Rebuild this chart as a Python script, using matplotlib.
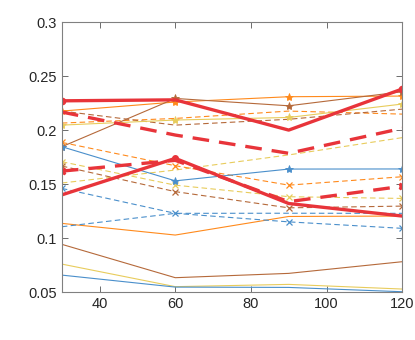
import numpy as np
import matplotlib
matplotlib.use("Agg")
import matplotlib.pyplot as plt

plt.rcParams['font.family'] = ['Liberation Sans', 'DejaVu Sans']

x = [30, 60, 90, 120]

# colours
blue = '#4a8fcb'
orange = '#ff8a1c'
brown = '#b5693a'
yellow = '#e8cc5c'
red = '#e8343a'

# solid, star markers
orange_star = [0.2176, 0.226, 0.2309, 0.2315]
brown_star = [0.1846, 0.2293, 0.2225, 0.2355]
yellow_star = [0.2046, 0.2093, 0.2117, 0.2241]
blue_star = [0.1846, 0.153, 0.1639, 0.164]

# dashed, x markers
orange_x = [0.1886, 0.167, 0.149, 0.1568]
yellow_x = [0.1707, 0.149, 0.1383, 0.1367]
brown_x = [0.1667, 0.143, 0.128, 0.1296]
blue_x = [0.146, 0.1229, 0.115, 0.109]

# dashed, no markers
orange_d = [0.2065, 0.2108, 0.2176, 0.2148]
brown_d = [0.2176, 0.2046, 0.21, 0.2194]
yellow_d = [0.151, 0.163, 0.177, 0.193]
blue_d = [0.1105, 0.1229, 0.123, 0.1229]

# solid, no markers
orange_s = [0.1136, 0.1028, 0.120, 0.1204]
brown_s = [0.0942, 0.0633, 0.0673, 0.0781]
yellow_s = [0.0759, 0.055, 0.0571, 0.0528]
blue_s = [0.0657, 0.0546, 0.0543, 0.0503]

# thick red
red_top = [0.2271, 0.228, 0.200, 0.238]
red_low = [0.140, 0.1738, 0.132, 0.1204]
red_dash_top = [0.2167, 0.1954, 0.1785, 0.2016]
red_dash_low = [0.162, 0.172, 0.1337, 0.148]

fig = plt.figure(figsize=(4.15, 3.4), dpi=100)
ax = fig.add_axes([0.149, 0.141, 0.82, 0.794])

thin = 0.8
for ys, c in [(orange_s, orange), (brown_s, brown), (yellow_s, yellow), (blue_s, blue)]:
    ax.plot(x, ys, '-', color=c, lw=thin)
for ys, c in [(orange_d, orange), (brown_d, brown), (yellow_d, yellow), (blue_d, blue)]:
    ax.plot(x, ys, '--', color=c, lw=thin, dashes=(5, 3))
for ys, c in [(orange_x, orange), (yellow_x, yellow), (brown_x, brown), (blue_x, blue)]:
    ax.plot(x, ys, '--', color=c, lw=thin, dashes=(5, 3), marker='x', ms=5, mew=0.9)
for ys, c in [(orange_star, orange), (brown_star, brown), (yellow_star, yellow), (blue_star, blue)]:
    ax.plot(x, ys, '-', color=c, lw=thin, marker='*', ms=6, mew=0.6)

ax.plot(x, red_top, '-', color=red, lw=2.4, marker='o', ms=4.5, markevery=[0, 3])
ax.plot(x, red_low, '-', color=red, lw=2.4, marker='o', ms=4, markevery=[1])
ax.plot(x, red_dash_top, '--', color=red, lw=2.4, dashes=(5, 3))
ax.plot(x, red_dash_low, '--', color=red, lw=2.4, dashes=(5, 3), marker='X', ms=5, markevery=[0, 3])

ax.set_xlim(30, 120)
ax.set_ylim(0.05, 0.3)
ax.set_xticks([40, 60, 80, 100, 120])
ax.set_yticks([0.05, 0.1, 0.15, 0.2, 0.25, 0.3])
ax.set_yticklabels(['0.05', '0.1', '0.15', '0.2', '0.25', '0.3'])
ax.tick_params(direction='in', top=True, right=True, length=4, width=0.6,
               color='#555555', labelsize=10.5, labelcolor='#262626')
for s in ax.spines.values():
    s.set_color('#808080')
    s.set_linewidth(0.8)

fig.savefig('out.png', dpi=100)
